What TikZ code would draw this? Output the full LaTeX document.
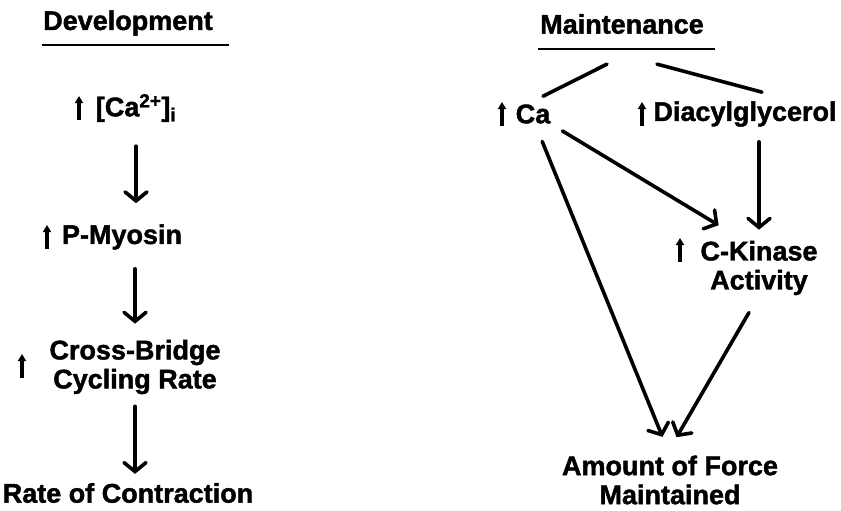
\documentclass[tikz,border=0pt]{standalone}
\usepackage{fontspec}
\setmainfont{Liberation Sans}[BoldFeatures={FakeBold=1.5}]
\usetikzlibrary{arrows.meta}

\begin{document}
\begin{tikzpicture}[x=1pt, y=-1pt, font=\fontsize{27}{29}\selectfont\bfseries,
	lbl/.style={inner sep=0pt, align=center},
	upmark/.style={line width=4pt, -{Triangle[length=7pt,width=8pt]}},
	flow/.style={line width=3.6pt, line cap=round, -{Straight Barb[length=9pt,width=22pt,line cap=round]}},
	link/.style={line width=3.6pt, line cap=round},
	rule/.style={line width=2.4pt}]
	\useasboundingbox (0,0) rectangle (841,511);
	%development
	\node[lbl] (dev) at (128,23) {Development};
	\draw[rule] (42,45) -- (229,45);
	\node[lbl] (cai) at (136,108) {[Ca\textsuperscript{2+}]\textsubscript{i}};
	\coordinate (caiup) at (79,108);
	\node[lbl] (pmyo) at (122,237) {P-Myosin};
	\coordinate (pmyoup) at (47,237);
	\node[lbl] (cbr) at (135,367) {Cross-Bridge\\Cycling Rate};
	\coordinate (cbrup) at (22,366);
	\node[lbl] (roc) at (128,493) {Rate of Contraction};
	%development arrows
	\draw[flow, shorten <=24pt, shorten >=21pt] (cai.south) -- (cai.south |- pmyo.north);
	\draw[flow, shorten <=19pt, shorten >=16pt] (pmyo.south -| cbr.north) -- (cbr.north);
	\draw[flow, shorten <=12pt, shorten >=9pt] (cbr.south) -- (cbr.south |- roc.north);
	%maintenance
	\node[lbl] (maint) at (622,24) {Maintenance};
	\draw[rule] (538,49) -- (715,49);
	\node[lbl] (ca) at (533,114) {Ca};
	\coordinate (caup) at (502,114);
	\node[lbl] (dag) at (745,114) {Diacylglycerol};
	\coordinate (dagup) at (642,114);
	\node[lbl] (ck) at (759,268) {C-Kinase\\Activity};
	\coordinate (ckup) at (680,250);
	\node[lbl] (amt) at (670,480) {Amount of Force\\Maintained};
	%maintenance links and arrows
	\draw[link] ([xshift=-15pt,yshift=-30pt]maint.south) -- ([xshift=10pt,yshift=8pt]ca.north);
	\draw[link] ([xshift=35pt,yshift=-30pt]maint.south) -- ([xshift=17pt,yshift=9pt]dag.north);
	\draw[flow, shorten <=19pt, shorten >=20pt] ([xshift=2pt]ca.south) -- (amt.north);
	\draw[flow, shorten <=14pt, shorten >=30pt] (ca.south east) -- ([xshift=44pt]ck.north west);
	\draw[flow, shorten <=15pt, shorten >=11pt] (ck.north |- dag.south) -- (ck.north);
	\draw[flow, shorten <=20pt, shorten >=21pt] (ck.south) -- ([xshift=-4pt]amt.north);
	%up marks
	\foreach \m in {caiup,pmyoup,cbrup,caup,dagup,ckup}
		\draw[upmark] ([yshift=-12pt]\m) -- ([yshift=12pt]\m);
\end{tikzpicture}
\end{document}
